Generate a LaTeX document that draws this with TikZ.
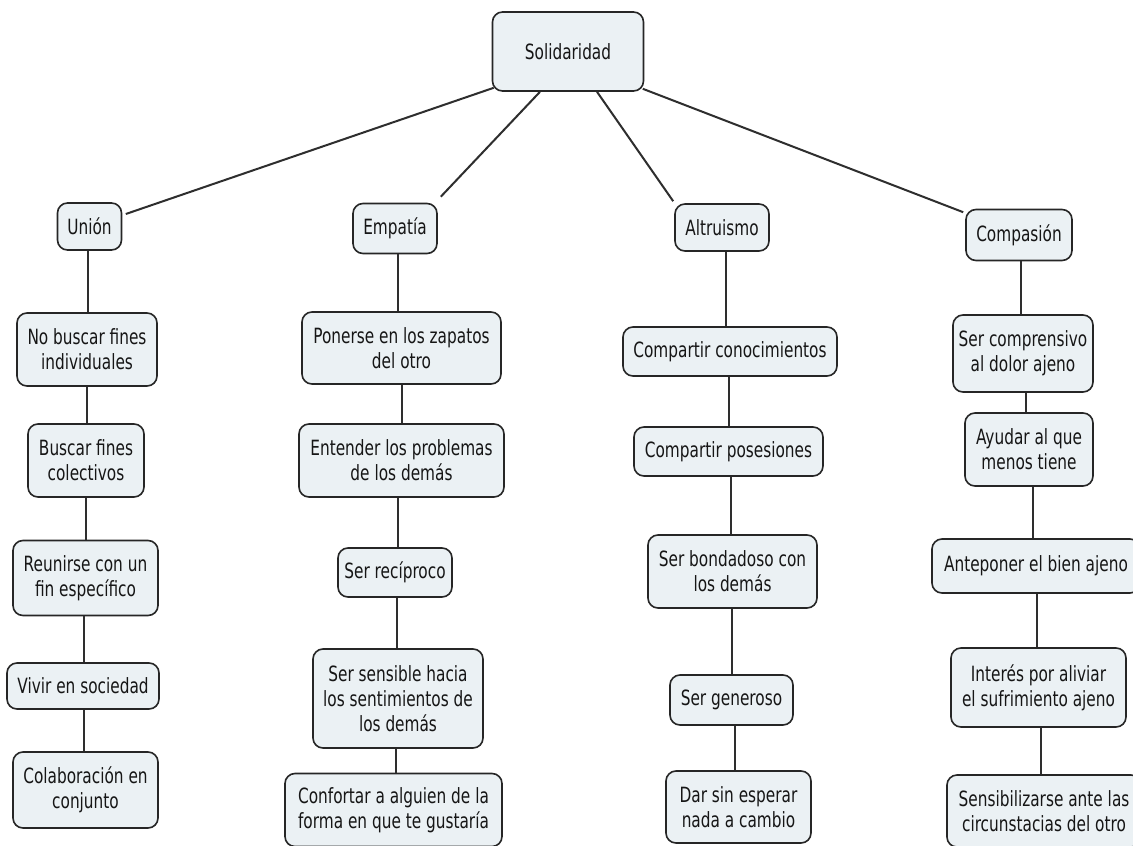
\documentclass[tikz,border=0pt]{standalone}
\usepackage{fontspec}
\setmainfont{DejaVu Sans}[FakeStretch=0.73]
\usetikzlibrary{calc}
\definecolor{boxfill}{HTML}{EBF1F4}
\definecolor{boxline}{HTML}{262626}
\definecolor{linkcol}{HTML}{2E2E2E}
\definecolor{txtcol}{HTML}{161616}
\tikzset{
  concept/.style={draw=boxline, line width=1.6pt, fill=boxfill, rounded corners=10pt,
    align=center, inner sep=0pt, text=txtcol,
    font=\fontsize{21}{25}\selectfont},
  link/.style={draw=linkcol, line width=2pt},
}
\newcommand\vlink[2]{%
  \path ($(#1.south)!0.5!(#2.north)$) coordinate (m-#1-#2);
  \draw[link] (#1.south -| m-#1-#2) -- (#2.north -| m-#1-#2);}
\begin{document}
\begin{tikzpicture}[x=1pt,y=-1pt]
\useasboundingbox[fill=white] (0,0) rectangle (1133,846);

% root
\node[concept, minimum width=151pt, minimum height=79pt] (sol) at (568,51.5) {Solidaridad};

% level 1
\node[concept, minimum width=64pt, minimum height=47pt] (union) at (89.5,226.5) {Unión};
\node[concept, minimum width=84pt, minimum height=50pt] (emp) at (395,228.5) {Empatía};
\node[concept, minimum width=94pt, minimum height=47pt] (alt) at (722,227.5) {Altruismo};
\node[concept, minimum width=106pt, minimum height=51pt] (comp) at (1019,235) {Compasión};

% Union column
\node[concept, minimum width=140pt, minimum height=73pt] (u1) at (87,349.5) {No buscar fines\\individuales};
\node[concept, minimum width=116pt, minimum height=73pt] (u2) at (86,460.5) {Buscar fines\\colectivos};
\node[concept, minimum width=145pt, minimum height=75pt] (u3) at (85.5,578) {Reunirse con un\\fin específico};
\node[concept, minimum width=152pt, minimum height=46pt] (u4) at (83,686) {Vivir en sociedad};
\node[concept, minimum width=145pt, minimum height=76pt] (u5) at (85.5,790) {Colaboración en\\conjunto};

% Empatia column
\node[concept, minimum width=199pt, minimum height=72pt] (e1) at (401.5,348) {Ponerse en los zapatos\\del otro};
\node[concept, minimum width=205pt, minimum height=73pt] (e2) at (401.5,460.5) {Entender los problemas\\de los demás};
\node[concept, minimum width=114pt, minimum height=49pt] (e3) at (395,572.5) {Ser recíproco};
\node[concept, minimum width=170pt, minimum height=99pt] (e4) at (398,698.5) {Ser sensible hacia\\los sentimientos de\\los demás};
\node[concept, minimum width=217pt, minimum height=73pt] (e5) at (393.5,810) {Confortar a alguien de la\\forma en que te gustaría};

% Altruismo column
\node[concept, minimum width=214pt, minimum height=49pt] (a1) at (730,351.5) {Compartir conocimientos};
\node[concept, minimum width=189pt, minimum height=49pt] (a2) at (728.5,451.5) {Compartir posesiones};
\node[concept, minimum width=169pt, minimum height=73pt] (a3) at (732.5,571.5) {Ser bondadoso con\\los demás};
\node[concept, minimum width=123pt, minimum height=50pt] (a4) at (731.5,700) {Ser generoso};
\node[concept, minimum width=145pt, minimum height=72pt] (a5) at (738.5,807) {Dar sin esperar\\nada a cambio};

% Compasion column
\node[concept, minimum width=140pt, minimum height=77pt] (c1) at (1023,353.5) {Ser comprensivo\\al dolor ajeno};
\node[concept, minimum width=128pt, minimum height=73pt] (c2) at (1029,449.5) {Ayudar al que\\menos tiene};
\node[concept, minimum width=208pt, minimum height=54pt] (c3) at (1036,566) {Anteponer el bien ajeno};
\node[concept, minimum width=175pt, minimum height=79pt] (c4) at (1038.5,687.5) {Interés por aliviar\\el sufrimiento ajeno};
\node[concept, minimum width=194pt, minimum height=72pt] (c5) at (1044,811) {Sensibilizarse ante las\\circunstacias del otro};

% top connectors
\draw[link] ([xshift=2pt,yshift=4pt]sol.south west) -- ([xshift=3.5pt,yshift=12.5pt]union.east);
\draw[link] ([xshift=-28pt]sol.south) -- ([xshift=3pt,yshift=6pt]emp.north east);
\draw[link] ([xshift=29pt]sol.south) -- ([xshift=-1pt,yshift=2pt]alt.north west);
\draw[link] ([xshift=-1.5pt,yshift=3pt]sol.south east) -- ([xshift=-2pt,yshift=-3.5pt]comp.north west);

% vertical connectors
\vlink{union}{u1}\vlink{u1}{u2}\vlink{u2}{u3}\vlink{u3}{u4}\vlink{u4}{u5}
\vlink{emp}{e1}\vlink{e1}{e2}\vlink{e2}{e3}\vlink{e3}{e4}\vlink{e4}{e5}
\vlink{alt}{a1}\vlink{a1}{a2}\vlink{a2}{a3}\vlink{a3}{a4}\vlink{a4}{a5}
\vlink{comp}{c1}\vlink{c1}{c2}\vlink{c2}{c3}\vlink{c3}{c4}\vlink{c4}{c5}
\end{tikzpicture}
\end{document}
